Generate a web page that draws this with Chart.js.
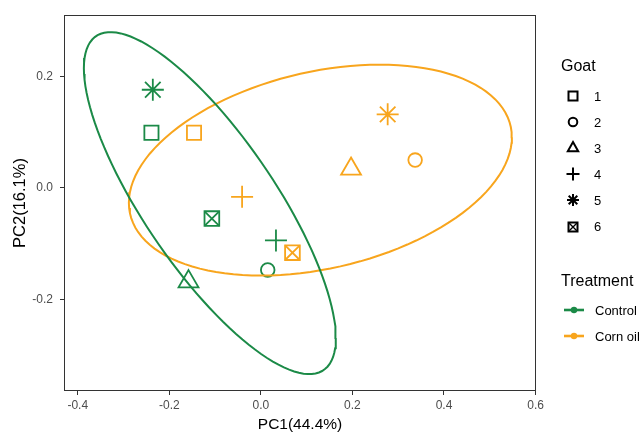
<!DOCTYPE html>
<html>
<head>
<meta charset="utf-8">
<script src="https://cdn.jsdelivr.net/npm/chart.js@4.4.1/dist/chart.umd.min.js"></script>
<style>
  html, body { margin: 0; padding: 0; background: #fff; }
  #wrap { position: relative; width: 642px; height: 432px; font-family: "Liberation Sans", Arial, sans-serif; }
  .lg { position: absolute; color: #000; white-space: nowrap; }
  .lg svg { position: absolute; overflow: visible; }
</style>
</head>
<body>
<div id="wrap">
  <canvas id="pca" width="642" height="432"></canvas>
  <div id="legend"></div>
</div>
<script>
let goats = ["1", "2", "3", "4", "5", "6"];
let treatments = ["Control", "Corn oil"];

let controlPC1 = [-0.239, 0.015, -0.158, 0.033, -0.236, -0.107];
let controlPC2 = [0.099, -0.147, -0.168, -0.094, 0.176, -0.055];
let cornOilPC1 = [-0.146, 0.337, 0.197, -0.041, 0.277, 0.069];
let cornOilPC2 = [0.099, 0.05, 0.034, -0.016, 0.132, -0.116];

let xTicks = [-0.4, -0.2, 0, 0.2, 0.4, 0.6];
let yTicks = [-0.2, 0, 0.2];

// confidence ellipse of each treatment: centre, and the cos t / sin t terms
let ellipseCentre = [[-0.1114, -0.0272], [0.13, 0.032]];
let ellipseCos = [[0.2752, -0.2418], [0.4183, 0.0587]];
let ellipseSin = [[0, 0.1884], [0, 0.1797]];

let colors = ["#1B8A47", "#F8A51D"];
let goatShapes = ["rect", "circle", "triangle", "cross", "star", "rect"];
let goatRadius = [10, 6.8, 11.5, 11, 11, 10.4];

Chart.defaults.font.family = "'Liberation Sans', Arial, sans-serif";

function ellipsePoints(k) {
  let pts = [];
  for (let i = 0; i <= 120; i++) {
    let t = (2 * Math.PI * i) / 120;
    pts.push({
      x: ellipseCentre[k][0] + ellipseCos[k][0] * Math.cos(t) + ellipseSin[k][0] * Math.sin(t),
      y: ellipseCentre[k][1] + ellipseCos[k][1] * Math.cos(t) + ellipseSin[k][1] * Math.sin(t),
    });
  }
  return pts;
}

function goatPoints(pc1, pc2) {
  return pc1.map((x, i) => ({ x: x, y: pc2[i] }));
}

let pcs = [
  [controlPC1, controlPC2],
  [cornOilPC1, cornOilPC2],
];

let datasets = [];
treatments.forEach((name, k) => {
  datasets.push({
    type: "scatter",
    label: name + " ellipse",
    data: ellipsePoints(k),
    showLine: true,
    borderColor: colors[k],
    borderWidth: 2,
    pointRadius: 0,
    fill: false,
    tension: 0,
  });
});
treatments.forEach((name, k) => {
  datasets.push({
    type: "scatter",
    label: name,
    data: goatPoints(pcs[k][0], pcs[k][1]),
    pointStyle: goatShapes,
    pointRadius: goatRadius,
    pointBorderWidth: 1.8,
    pointBorderColor: colors[k],
    pointBackgroundColor: "rgba(0,0,0,0)",
  });
  // goat 6 is a square with a cross inside
  datasets.push({
    type: "scatter",
    label: name + " cross",
    data: [{ x: pcs[k][0][5], y: pcs[k][1][5] }],
    pointStyle: "crossRot",
    pointRadius: goatRadius[5],
    pointBorderWidth: 1.8,
    pointBorderColor: colors[k],
  });
});

const panelBorder = {
  id: "panelBorder",
  afterDatasetsDraw(chart) {
    const { ctx, chartArea: a } = chart;
    ctx.save();
    ctx.strokeStyle = "#333333";
    ctx.lineWidth = 1;
    ctx.strokeRect(a.left + 0.5, a.top + 0.5, a.right - a.left - 1, a.bottom - a.top - 1);
    ctx.restore();
  },
};

new Chart(document.getElementById("pca"), {
  type: "scatter",
  data: { datasets: datasets },
  plugins: [panelBorder],
  options: {
    responsive: false,
    animation: false,
    devicePixelRatio: 1,
    layout: { padding: { top: 15, right: 106, left: 0, bottom: 0 } },
    plugins: {
      legend: { display: false },
      tooltip: { enabled: false },
    },
    scales: {
      x: {
        type: "linear",
        min: -0.43,
        max: 0.601,
        afterBuildTicks: (axis) => {
          axis.ticks = xTicks.map((v) => ({ value: v }));
        },
        afterFit: (axis) => {
          axis.height = 41;
        },
        ticks: {
          callback: (v) => v.toFixed(1),
          color: "#4D4D4D",
          font: { size: 12 },
          padding: 3,
          maxRotation: 0,
          autoSkip: false,
        },
        grid: { drawOnChartArea: false, drawTicks: true, tickLength: 4, color: "#333333" },
        border: { display: false },
        title: {
          display: true,
          text: "PC1(44.4%)",
          color: "#000",
          font: { size: 15.5, lineHeight: 1 },
          padding: { top: 0, bottom: 0 },
        },
      },
      y: {
        type: "linear",
        min: -0.364,
        max: 0.31,
        afterBuildTicks: (axis) => {
          axis.ticks = yTicks.map((v) => ({ value: v }));
        },
        afterFit: (axis) => {
          axis.width = 64;
        },
        ticks: {
          callback: (v) => v.toFixed(1),
          color: "#4D4D4D",
          font: { size: 12 },
          padding: 7,
        },
        grid: { drawOnChartArea: false, drawTicks: true, tickLength: 4, color: "#333333" },
        border: { display: false },
        title: {
          display: true,
          text: "PC2(16.1%)",
          color: "#000",
          font: { size: 16.5, lineHeight: 1 },
          padding: { top: 12, bottom: 0 },
        },
      },
    },
  },
});

// legend on the right, two groups
function goatSvg(i) {
  let s = 'stroke="#000" stroke-width="2" fill="none"';
  let inner = [
    `<rect x="-4.5" y="-4.5" width="9" height="9" ${s}/>`,
    `<circle cx="0" cy="0" r="4.3" ${s}/>`,
    `<polygon points="0,-6 5.2,3.3 -5.2,3.3" ${s}/>`,
    `<path d="M-6.5,0H6.5M0,-6.5V6.5" ${s}/>`,
    `<path d="M-6,0H6M0,-6V6M-4.3,-4.3L4.3,4.3M-4.3,4.3L4.3,-4.3" ${s}/>`,
    `<rect x="-4.5" y="-4.5" width="9" height="9" ${s}/><path d="M-4.5,-4.5L4.5,4.5M-4.5,4.5L4.5,-4.5" stroke="#000" stroke-width="1.4"/>`,
  ][i];
  return `<svg width="1" height="1" style="left:0;top:0"><g>${inner}</g></svg>`;
}

let legend = document.getElementById("legend");
let html = "";
html += `<div class="lg" style="left:561px;top:58px;font-size:16px;line-height:16px">Goat</div>`;
goats.forEach((g, i) => {
  let cy = 96 + i * 26.1;
  html += `<div class="lg" style="left:573px;top:${cy}px">${goatSvg(i)}</div>`;
  html += `<div class="lg" style="left:594px;top:${cy - 6.5}px;font-size:13px;line-height:13px">${g}</div>`;
});
html += `<div class="lg" style="left:561px;top:273px;font-size:16px;line-height:16px">Treatment</div>`;
treatments.forEach((t, k) => {
  let cy = 310 + k * 26;
  html += `<div class="lg" style="left:574px;top:${cy}px"><svg width="1" height="1"><path d="M-10,0H10" stroke="${colors[k]}" stroke-width="2.6"/><circle cx="0" cy="0" r="3.2" fill="${colors[k]}"/></svg></div>`;
  html += `<div class="lg" style="left:595px;top:${cy - 6.5}px;font-size:13px;line-height:13px">${t}</div>`;
});
legend.innerHTML = html;
</script>
</body>
</html>
